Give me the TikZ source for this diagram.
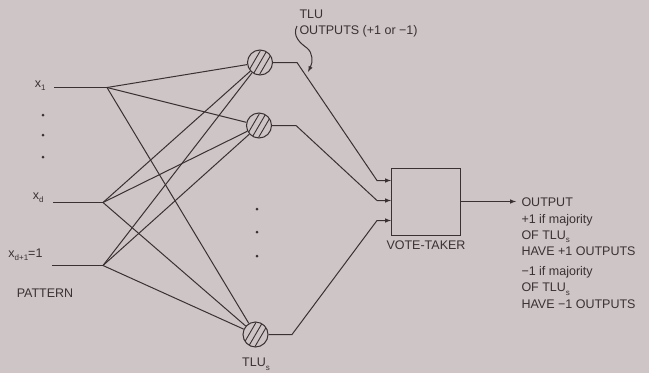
\documentclass[tikz,border=0pt]{standalone}
\usepackage{fontspec}
\setmainfont{Liberation Sans}
\usetikzlibrary{positioning}

\definecolor{paper}{RGB}{206,198,198}
\definecolor{ink}{RGB}{58,50,50}
\newcommand{\lo}[1]{\raisebox{-0.55ex}{\footnotesize #1}}

\tikzset{
  tlu/.style={circle, draw, minimum size=25pt, inner sep=0pt,
    path picture={
      \foreach \d in {-6.5,0,6.5}
        \draw[line width=0.9pt] ([xshift=\d pt]path picture bounding box.center) +(-7,12) -- +(7,-12);
    }},
  dot/.style={circle, fill, inner sep=0pt, minimum size=3pt},
  every node/.style={font=\fontsize{12.5}{15}\selectfont},
}

\begin{document}
\begin{tikzpicture}[x=1pt, y=-1pt, line width=1pt, color=ink]
	  \fill[paper] (0,0) rectangle (649,373);
	  \useasboundingbox (0,0) rectangle (649,373);
	  % inputs
	  \coordinate (s1) at (54,87.5);  \coordinate (j1) at (107,87.5);
	  \coordinate (s2) at (53,202.5); \coordinate (j2) at (103,202.5);
	  \coordinate (s3) at (52,265.5); \coordinate (j3) at (103,265.5);
	  \node[anchor=base east, inner sep=0pt] (x1) at (46,87) {x\lo{1}};
	  \node[anchor=base east, inner sep=0pt] (xd) at (44,199) {x\lo{d}};
	  \node[anchor=base east, inner sep=0pt] (xe) at (43,257) {x\lo{d+1}=1};
	  \node (pattern) at (45,293) {PATTERN};
	  \foreach \y in {115,135,157} \node[dot] (l\y) at (43,\y) {};
	  \draw (s1) -- (j1);
	  \draw (s2) -- (j2);
	  \draw (s3) -- (j3);
	  % TLUs
	  \node[tlu] (t1) at (260,62.5) {};
	  \node[tlu] (t2) at (259,125.5) {};
	  \node[tlu] (t3) at (255.5,334.5) {};
	  \foreach \y in {209,232,256} \node[dot] (m\y) at (257,\y) {};
	  \node (tlus) at (256,364) {TLU\lo{s}};
	  \foreach \j in {j1,j2,j3}
	    \foreach \t in {t1,t2,t3}
	      \draw (\j) -- (\t);
	  % vote taker
	  \node[draw, minimum width=69pt, minimum height=67pt] (vote) at (426,201.5) {};
	  \node[below=1pt of vote] (votelbl) {VOTE-TAKER};
	  \coordinate (b1) at (297,62.5); \coordinate (c1) at (377,180.5);
	  \coordinate (b2) at (296,125.5); \coordinate (c2) at (377,200.5);
	  \coordinate (b3) at (292,334.5); \coordinate (c3) at (377,220.5);
	  \draw[->,>=latex] (t1) -- (b1) -- (c1) -- (vote.west |- c1);
	  \draw[->,>=latex] (t2) -- (b2) -- (c2) -- (vote.west |- c2);
	  \draw[->,>=latex] (t3) -- (b3) -- (c3) -- (vote.west |- c3);
	  % note on the TLU outputs
	  \node[anchor=north west, align=left, inner sep=0pt,
	        font=\fontsize{12.5}{15.5}\selectfont] (note) at (299,9.5)
	        {TLU\\OUTPUTS (+1 or −1)};
	  \coordinate (n0) at (297,26); \coordinate (n1) at (308,72);
	  \draw[->,>=latex] (n0) .. controls (292,36) and (300,43) .. (307,48)
	        .. controls (313,53) and (313,62) .. (n1);
	  % output
	  \coordinate (o) at (516,201.5);
	  \draw[->,>=latex] (vote.east) -- (o);
	  \node[anchor=north west, align=left, inner sep=0pt,
	        font=\fontsize{12.5}{16.3}\selectfont] (outtxt) at (521,197.5)
	        {OUTPUT\\+1 if majority\\OF TLU\lo{s}\\HAVE +1 OUTPUTS\\[3.5pt]
	         −1 if majority\\OF TLU\lo{s}\\HAVE −1 OUTPUTS};
\end{tikzpicture}
\end{document}
